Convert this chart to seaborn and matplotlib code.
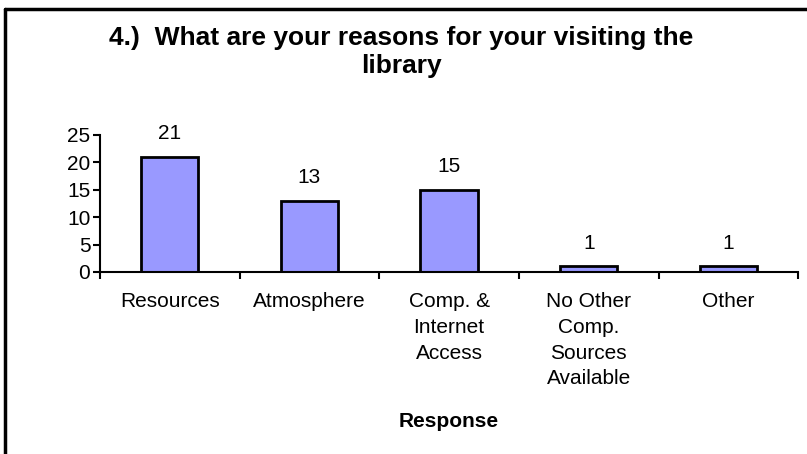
import matplotlib
matplotlib.use("Agg")
import matplotlib.pyplot as plt
from matplotlib.lines import Line2D
import seaborn as sns
import pandas as pd

categories = ["Resources", "Atmosphere", "Comp. &\nInternet\nAccess",
              "No Other\nComp.\nSources\nAvailable", "Other"]
counts = [21, 13, 15, 1, 1]
y_ticks = [0, 5, 10, 15, 20, 25]

sns.set_theme(style="white")
plt.rcParams["font.family"] = ["Liberation Sans", "DejaVu Sans"]
plt.rcParams["text.color"] = "black"
plt.rcParams["xtick.color"] = "black"
plt.rcParams["ytick.color"] = "black"
plt.rcParams["axes.labelcolor"] = "black"

df = pd.DataFrame({"Response": categories, "Count": counts})

fig = plt.figure(figsize=(8.07, 4.54), dpi=100)
ax = fig.add_axes([0.124, 0.401, 0.865, 0.302])

sns.barplot(data=df, x="Response", y="Count", ax=ax, color="#9999FF",
            saturation=1, width=0.41, edgecolor="black", linewidth=2)

ax.set_xlim(-0.5, len(categories) - 0.5)
ax.set_ylim(0, 25)
ax.set_yticks(y_ticks)
ax.tick_params(axis="y", which="major", length=5, width=1.5, direction="out",
               labelsize=15, pad=2, left=True)
ax.tick_params(axis="x", which="major", length=0, labelsize=15, pad=14.5)
ax.set_xticks([i - 0.5 for i in range(len(categories) + 1)], minor=True)
ax.tick_params(axis="x", which="minor", length=5, width=1.5,
               direction="out", bottom=True)
for lab in ax.get_xticklabels():
    lab.set_linespacing(1.45)

for side in ("top", "right"):
    ax.spines[side].set_visible(False)
for side in ("left", "bottom"):
    ax.spines[side].set_color("black")
    ax.spines[side].set_linewidth(1.5)

ax.set_ylabel("")
ax.set_xlabel("Response", fontsize=15, fontweight="bold", labelpad=17)

for i, v in enumerate(counts):
    ax.annotate(str(v), (i, v), xytext=(0, 10), textcoords="offset points",
                ha="center", va="bottom", fontsize=15)

fig.suptitle("4.)  What are your reasons for your visiting the\nlibrary",
             x=0.4975, y=0.942, fontsize=19, fontweight="bold",
             linespacing=1.2, va="top")

# frame around the chart area
fig.add_artist(Line2D([0.006, 0.006], [0.0, 0.98], transform=fig.transFigure,
                      color="black", linewidth=2.5))
fig.add_artist(Line2D([0.006, 1.0], [0.98, 0.98], transform=fig.transFigure,
                      color="black", linewidth=2.5))

fig.savefig("out.png", dpi=100)
